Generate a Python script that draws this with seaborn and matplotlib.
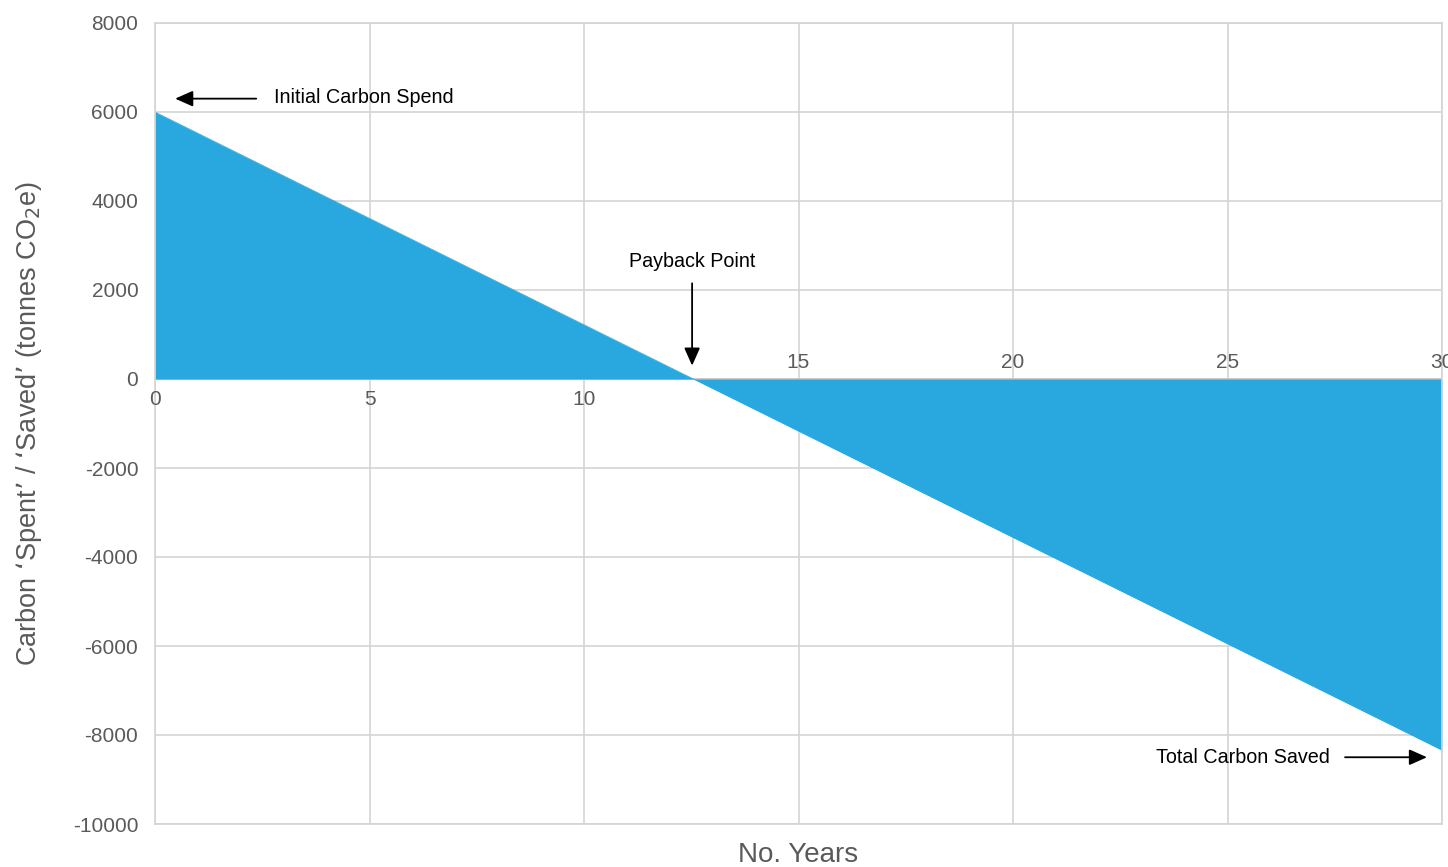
import matplotlib
matplotlib.use("Agg")
import matplotlib.pyplot as plt
import seaborn as sns
import pandas as pd

years = [0, 5, 10, 15, 20, 25, 30]
carbon = [6000, 3610, 1220, -1170, -3560, -5950, -8340]
x_ticks = [0, 5, 10, 15, 20, 25, 30]
y_ticks = [8000, 6000, 4000, 2000, 0, -2000, -4000, -6000, -8000, -10000]

fill_color = "#29a8e0"
grid_color = "#d4d4d4"
tick_color = "#5a5a5a"

sns.set_theme(style="white")
plt.rcParams["font.family"] = ["Liberation Sans", "DejaVu Sans"]

df = pd.DataFrame({"year": years, "carbon": carbon})

fig = plt.figure(figsize=(14.48, 8.67), dpi=100)
ax = fig.add_axes([155 / 1448, 1 - 824 / 867, (1442 - 155) / 1448, (824 - 23) / 867])

ax.fill_between(df["year"], df["carbon"], 0, color=fill_color, linewidth=0, zorder=2)
sns.lineplot(data=df, x="year", y="carbon", ax=ax, color=fill_color, linewidth=0.5, zorder=2)

ax.set_xlim(0, 30)
ax.set_ylim(-10000, 8000)
ax.set_xticks(x_ticks)
ax.set_yticks(y_ticks)
ax.set_xticklabels([])
ax.set_yticklabels([str(v) for v in y_ticks], fontsize=15, color=tick_color)
ax.tick_params(axis="y", length=0, pad=12)
ax.tick_params(axis="x", length=0)

ax.grid(True, color=grid_color, linewidth=1.2, zorder=0)
ax.set_axisbelow(True)
for s in ax.spines.values():
    s.set_color(grid_color)
    s.set_linewidth(1.2)
ax.axhline(0, color="#c8c8c8", linewidth=1.2, zorder=1)

# x tick labels along the zero line
for xv in x_ticks:
    if xv <= 10:
        ax.annotate(str(xv), (xv, 0), xytext=(0, -8), textcoords="offset points",
                    ha="center", va="top", fontsize=15, color=tick_color, zorder=5)
    else:
        ax.annotate(str(xv), (xv, 0), xytext=(0, 5), textcoords="offset points",
                    ha="center", va="bottom", fontsize=15, color=tick_color, zorder=5,
                    annotation_clip=False)

ax.set_xlabel("No. Years", fontsize=20, color=tick_color)
ax.set_ylabel("Carbon ‘Spent’ / ‘Saved’ (tonnes CO$_2$e)", fontsize=19.5,
              color=tick_color)
ax.xaxis.set_label_coords(0.5, -0.022)
ax.yaxis.set_label_coords(-0.086, 0.5)

arrow_kw = dict(arrowstyle="-|>,head_length=0.9,head_width=0.4", color="black", lw=1.3,
                shrinkA=0, shrinkB=0)

ax.annotate("", xy=(0.47, 6300), xytext=(2.36, 6300), arrowprops=arrow_kw)
ax.text(2.77, 6315, "Initial Carbon Spend", fontsize=14.2, color="black", va="center", ha="left")

ax.text(12.52, 2650, "Payback Point", fontsize=14.2, color="black", va="center", ha="center")
ax.annotate("", xy=(12.52, 300), xytext=(12.52, 2150), arrowprops=arrow_kw)

ax.text(27.39, -8500, "Total Carbon Saved", fontsize=14.2, color="black", va="center", ha="right")
ax.annotate("", xy=(29.65, -8500), xytext=(27.74, -8500), arrowprops=arrow_kw)

fig.savefig("out.png", dpi=100)
